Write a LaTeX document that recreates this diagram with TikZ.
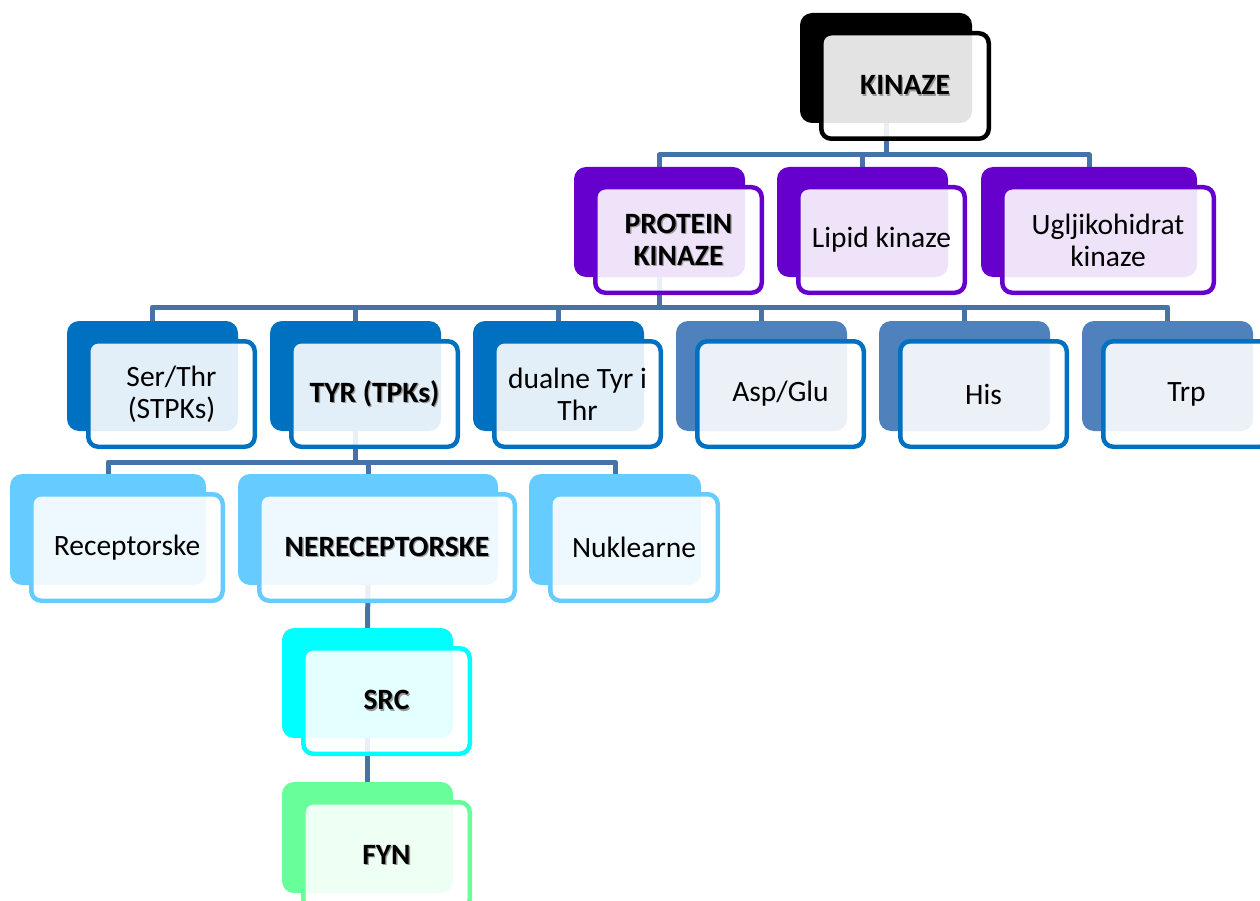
\documentclass[tikz,border=0pt]{standalone}
\usepackage{fontspec}
\setmainfont{Carlito}
\pgfdeclarelayer{bg}
\pgfsetlayers{bg,main}
\definecolor{cblack}{HTML}{000000}
\definecolor{cpurple}{HTML}{6600CC}
\definecolor{cblueA}{HTML}{0070C0}
\definecolor{cblueB}{HTML}{4F81BD}
\definecolor{clight}{HTML}{66CCFF}
\definecolor{ccyan}{HTML}{00FFFF}
\definecolor{cgreen}{HTML}{66FF99}
\definecolor{cconn}{HTML}{4672A8}
\newcommand{\shd}[1]{\textbf{\rlap{\kern1.3pt\raisebox{-1.3pt}{\color{black!40}#1}}#1}}
\newcommand{\kbox}[8]{%
  \node[backbox, fill=#6, minimum width=#4pt, minimum height=#5pt] (#1b) at (#2,#3) {};
  \node[frontbox, draw=#7, minimum width=#4pt-4.5pt, minimum height=#5pt-4.5pt] (#1) at (#2+19,#3+18) {#8};
}
\begin{document}
\begin{tikzpicture}[x=1pt,y=-1pt,
  backbox/.style={rounded corners=12pt, inner sep=0pt, outer sep=0pt, anchor=north west},
  frontbox/.style={rounded corners=10pt, fill=white, fill opacity=0.89, text opacity=1,
     line width=4.5pt, inner sep=0pt, anchor=north west, align=center,
     font=\fontsize{29.5}{32}\selectfont},
  conn/.style={draw=cconn, line width=5pt, line join=round}]
\useasboundingbox (0,0) rectangle (1260,901);
\clip (0,0) rectangle (1260,901);
% level 0
\kbox{k}{800}{13}{172}{110}{cblack}{cblack}{\shd{KINAZE}}
% level 1
\kbox{p}{574}{167}{171}{110}{cpurple}{cpurple}{\shd{PROTEIN}\\\shd{KINAZE}}
\kbox{l}{777}{167}{171}{110}{cpurple}{cpurple}{Lipid kinaze}
\kbox{u}{981}{167}{216}{110}{cpurple}{cpurple}{Ugljikohidrat\\kinaze}
% level 2
\kbox{st}{67}{321}{171}{110}{cblueA}{cblueA}{Ser/Thr\\(STPKs)}
\kbox{ty}{270}{321}{171}{110}{cblueA}{cblueA}{\shd{TYR (TPKs)}}
\kbox{du}{473}{321}{171}{110}{cblueA}{cblueA}{dualne Tyr i\\Thr}
\kbox{ag}{676}{321}{171}{110}{cblueB}{cblueA}{Asp/Glu}
\kbox{hi}{879}{321}{171}{110}{cblueB}{cblueA}{His}
\kbox{tr}{1082}{321}{171}{110}{cblueB}{cblueA}{Trp}
% level 3
\kbox{re}{10}{474}{196}{111}{clight}{clight}{Receptorske}
\kbox{ne}{238}{474}{260}{111}{clight}{clight}{\shd{NERECEPTORSKE}}
\kbox{nu}{529}{474}{172}{111}{clight}{clight}{Nuklearne}
% level 4
\kbox{sr}{282}{628}{171}{110}{ccyan}{ccyan}{\shd{SRC}}
\kbox{fy}{282}{782}{171}{111}{cgreen}{cgreen}{\shd{FYN}}
% connectors
\begin{pgfonlayer}{bg}
\foreach \c in {pb,lb,ub} \draw[conn] (kb.south) -- (kb.south |- 0,155) -| (\c.north);
\foreach \c in {stb,tyb,dub,agb,hib,trb} \draw[conn] (pb.south) -- (pb.south |- 0,307) -| (\c.north);
\foreach \c in {reb,neb,nub} \draw[conn] (tyb.south) -- (tyb.south |- 0,462) -| (\c.north);
\draw[conn] (neb.south) -- (srb.north);
\draw[conn] (srb.south) -- (fyb.north);
\end{pgfonlayer}
\end{tikzpicture}
\end{document}
